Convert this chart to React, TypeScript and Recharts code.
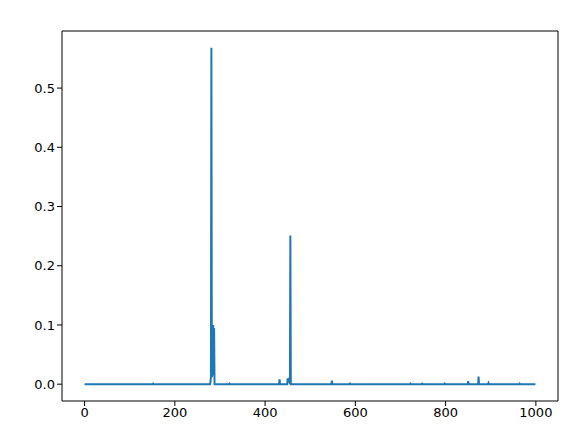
import { LineChart, Line, XAxis, YAxis, ReferenceArea } from 'recharts';

// sample index and value where the signal leaves zero; everything else is 0
const sampleIndex = [
  0, 151, 152, 153, 278, 279, 280, 281, 282, 283, 284, 285, 286, 287, 288,
  320, 321, 322, 431, 432, 433, 434, 449, 450, 451, 452, 453, 454, 455, 456,
  457, 547, 548, 549, 587, 588, 589, 721, 722, 723, 747, 748, 749, 797, 798,
  799, 849, 850, 851, 872, 873, 874, 894, 895, 896, 963, 964, 965, 999,
];
const sampleValue = [
  0, 0, 0.001, 0, 0, 0.004, 0.012, 0.568, 0.012, 0.02, 0.015, 0.1, 0.02, 0.095, 0,
  0, 0.001, 0, 0, 0.008, 0.002, 0, 0, 0.01, 0.004, 0.009, 0.003, 0.011, 0, 0.251,
  0, 0, 0.006, 0, 0, 0.001, 0, 0, 0.001, 0, 0, 0.001, 0, 0, 0.001,
  0, 0, 0.005, 0, 0, 0.013, 0, 0, 0.002, 0, 0, 0.001, 0, 0,
];

const xTicks = [0, 200, 400, 600, 800, 1000];
const yTicks = [0, 0.1, 0.2, 0.3, 0.4, 0.5];

const data = sampleIndex.map((x, i) => ({ x, y: sampleValue[i] }));

const xDomain: [number, number] = [-50, 1049];
const yDomain: [number, number] = [-0.0284, 0.5964];

const tickStyle = { fill: '#000', fontSize: 13, fontFamily: 'DejaVu Sans' };

export default function App() {
  return (
    <div style={{ background: '#fff' }}>
      <LineChart
        width={580}
        height={425}
        data={data}
        margin={{ top: 23, right: 30, left: 0, bottom: 0 }}
      >
        <XAxis
          dataKey="x"
          type="number"
          domain={xDomain}
          ticks={xTicks}
          allowDataOverflow
          height={32}
          stroke="#000"
          tickSize={5}
          tick={tickStyle}
          axisLine={false}
        />
        <YAxis
          type="number"
          domain={yDomain}
          ticks={yTicks}
          allowDataOverflow
          width={54}
          stroke="#000"
          tickSize={5}
          tick={tickStyle}
          tickFormatter={(v: number) => v.toFixed(1)}
          axisLine={false}
        />
        <Line
          type="linear"
          dataKey="y"
          stroke="#1f77b4"
          strokeWidth={2}
          dot={false}
          isAnimationActive={false}
        />
        <ReferenceArea
          x1={xDomain[0]}
          x2={xDomain[1]}
          y1={yDomain[0]}
          y2={yDomain[1]}
          fill="none"
          stroke="#000"
          strokeWidth={1}
          ifOverflow="visible"
        />
      </LineChart>
    </div>
  );
}
